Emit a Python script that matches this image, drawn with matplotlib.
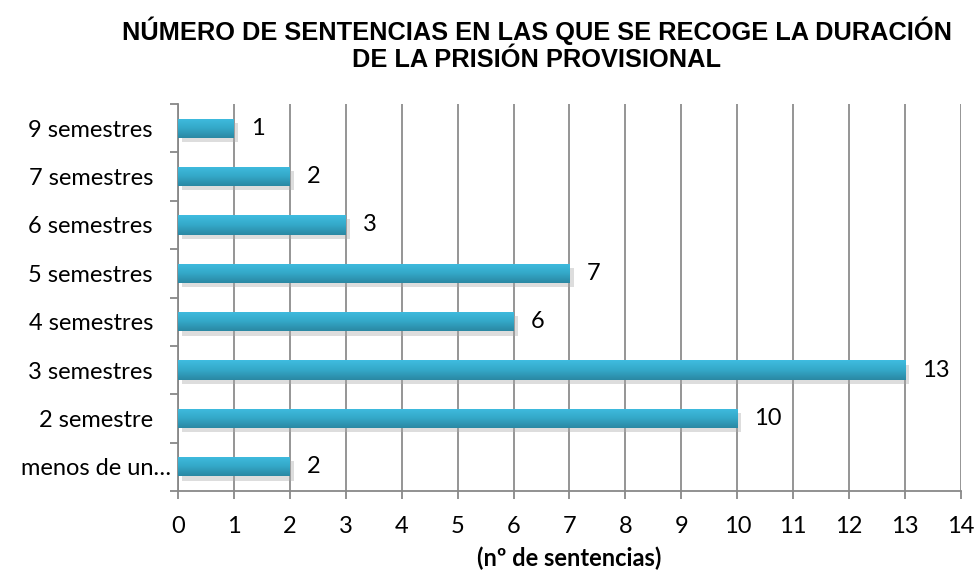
import numpy as np
import matplotlib.pyplot as plt
import matplotlib.patheffects as pe
import matplotlib.transforms as mtransforms
from matplotlib.colors import LinearSegmentedColormap

categorias = ["menos de un semestre", "2 semestre", "3 semestres", "4 semestres",
              "5 semestres", "6 semestres", "7 semestres", "9 semestres"]
etiquetas = ["menos de un…", "2 semestre", "3 semestres", "4 semestres",
             "5 semestres", "6 semestres", "7 semestres", "9 semestres"]
sentencias = [2, 10, 13, 6, 7, 3, 2, 1]

fig = plt.figure(figsize=(9.78, 5.72), dpi=100)
ax = fig.add_axes([178/978, 1-491/572, (961-178)/978, (491-104)/572])

cmap = LinearSegmentedColormap.from_list("azul", ["#2a88a3", "#34a8c8", "#3fbce0"])
grad = np.linspace(0, 1, 64).reshape(-1, 1)
alto = 0.4
y = np.arange(len(categorias))
bars = ax.barh(y, sentencias, height=alto, color="#36aed0", zorder=3)
for b in bars:
    b.set_path_effects([pe.SimplePatchShadow(offset=(3, -3), shadow_rgbFace="#aaaaaa", alpha=0.4), pe.Normal()])
    x0, y0 = b.get_x(), b.get_y()
    w, h = b.get_width(), b.get_height()
    im = ax.imshow(grad, cmap=cmap, aspect="auto", extent=[x0, x0 + w, y0, y0 + h],
                   origin="lower", zorder=4)
    im.set_clip_path(b)

for yi, v in zip(y, sentencias):
    ax.text(v + 0.3, yi, str(v), va="center", ha="left", fontsize=17, family="Lato")

ax.set_xlim(0, 14)
ax.set_ylim(-0.5, len(categorias) - 0.5)
ax.set_xticks(range(15))
ax.set_yticks(np.arange(-0.5, len(categorias), 1))
ax.set_yticklabels([])
ax.set_yticks(y, minor=True)
ax.set_yticklabels(etiquetas, minor=True, fontsize=17, family="Lato")
ax.tick_params(axis="y", which="minor", length=0, pad=18)
ax.tick_params(axis="y", which="major", length=6, color="#888888", width=1.3)
ax.tick_params(axis="x", length=6, color="#888888", width=1.3, labelsize=17, pad=12)
for t in ax.get_xticklabels():
    t.set_family("Lato")
# la etiqueta truncada queda más pegada al eje
primera = ax.get_yticklabels(minor=True)[0]
primera.set_transform(primera.get_transform() + mtransforms.ScaledTranslation(18/100, 0, fig.dpi_scale_trans))
ax.grid(axis="x", color="#8c8c8c", linewidth=1.3, zorder=0)
for s in ["top", "right"]:
    ax.spines[s].set_visible(False)
for s in ["left", "bottom"]:
    ax.spines[s].set_color("#888888")
    ax.spines[s].set_linewidth(1.3)

ax.set_xlabel("(nº de sentencias)", fontsize=17, fontweight="bold", family="Lato", labelpad=7)
fig.text(537/978, 1-44/572, "NÚMERO DE SENTENCIAS EN LAS QUE SE RECOGE LA DURACIÓN\nDE LA PRISIÓN PROVISIONAL",
         ha="center", va="center", fontsize=18.3, fontweight="bold", family="Liberation Sans",
         linespacing=1.15)

fig.savefig("out.png", dpi=100)
